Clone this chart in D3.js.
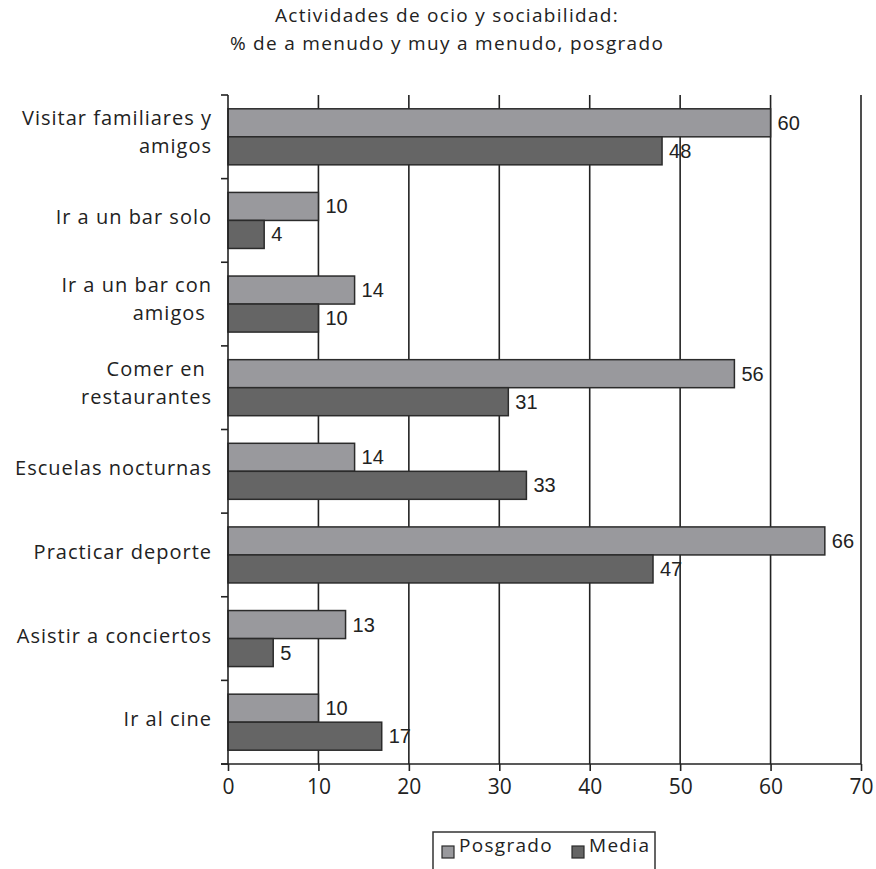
<!DOCTYPE html>
<html>
<head>
<meta charset="utf-8">
<script src="https://cdn.jsdelivr.net/npm/d3@7"></script>
<style>
  html, body { margin: 0; padding: 0; background: #ffffff; }
  svg { display: block; }
</style>
</head>
<body>
<svg id="chart" width="876" height="869"></svg>
<script>
// Activities, two-line labels split on '\n'
const categories = [
  'Visitar familiares y\namigos',
  'Ir a un bar solo',
  'Ir a un bar con\namigos ',
  'Comer en \nrestaurantes',
  'Escuelas nocturnas',
  'Practicar deporte',
  'Asistir a conciertos',
  'Ir al cine'
];
const seriesNames = ['Posgrado', 'Media'];
const posgrado = [60, 10, 14, 56, 14, 66, 13, 10];
const media = [48, 4, 10, 31, 33, 47, 5, 17];
const xTicks = [0, 10, 20, 30, 40, 50, 60, 70];
const titleLines = [
  'Actividades de ocio y sociabilidad:',
  '% de a menudo y muy a menudo, posgrado'
];

const COLORS = { Posgrado: '#99999d', Media: '#656565' };
const INK = '#222222';
const SANS = '"Open Sans", "Noto Sans", sans-serif';

const PLOT = { left: 228, right: 861, top: 95, bottom: 764 };

const root = d3.select('#chart');

const x = d3.scaleLinear()
  .domain([0, 70])
  .range([PLOT.left, PLOT.right]);

const y = d3.scaleBand()
  .domain(d3.range(categories.length))
  .range([PLOT.top, PLOT.bottom])
  .paddingInner(0.33)
  .paddingOuter(0.165);

const ySub = d3.scaleBand()
  .domain(seriesNames)
  .range([0, y.bandwidth()]);

// title
root.append('g')
  .selectAll('text')
  .data(titleLines)
  .join('text')
  .attr('x', 447)
  .attr('y', (d, i) => 22 + i * 28)
  .attr('text-anchor', 'middle')
  .attr('fill', INK)
  .attr('font-size', 19)
  .attr('letter-spacing', 1.3)
  .attr('font-family', SANS)
  .text(d => d);

// vertical gridlines (these also give the right border at 70)
root.append('g')
  .selectAll('line')
  .data(xTicks.slice(1))
  .join('line')
  .attr('x1', d => x(d))
  .attr('x2', d => x(d))
  .attr('y1', PLOT.top)
  .attr('y2', PLOT.bottom)
  .attr('stroke', INK)
  .attr('stroke-width', 1.6);

// bars
const rows = categories.map((c, i) => ({
  i,
  values: [
    { key: 'Posgrado', value: posgrado[i] },
    { key: 'Media', value: media[i] }
  ]
}));

const groups = root.append('g')
  .selectAll('g')
  .data(rows)
  .join('g')
  .attr('transform', d => `translate(0,${y(d.i)})`);

groups.selectAll('rect')
  .data(d => d.values)
  .join('rect')
  .attr('x', x(0))
  .attr('y', d => ySub(d.key))
  .attr('width', d => x(d.value) - x(0))
  .attr('height', ySub.bandwidth())
  .attr('fill', d => COLORS[d.key])
  .attr('stroke', '#2b2b2b')
  .attr('stroke-width', 1.5);

groups.selectAll('text')
  .data(d => d.values)
  .join('text')
  .attr('x', d => x(d.value) + 7)
  .attr('y', d => ySub(d.key) + ySub.bandwidth() / 2)
  .attr('dominant-baseline', 'central')
  .attr('fill', INK)
  .attr('font-size', 20)
  .attr('font-family', '"Liberation Sans", Arial, sans-serif')
  .text(d => d.value);

// x axis
const xAxis = d3.axisBottom(x)
  .tickValues(xTicks)
  .tickSize(7)
  .tickPadding(8)
  .tickSizeOuter(0);

const gx = root.append('g')
  .attr('transform', `translate(0,${PLOT.bottom})`)
  .call(xAxis);

gx.select('.domain')
  .attr('d', `M${PLOT.left - 7},0H${PLOT.right}`)
  .attr('stroke', INK)
  .attr('stroke-width', 1.6);
gx.selectAll('.tick line')
  .attr('stroke', INK)
  .attr('stroke-width', 1.6);
gx.selectAll('.tick text')
  .attr('fill', INK)
  .attr('font-size', 21)
  .attr('font-family', SANS);

// y axis line and category boundary ticks
const step = y.step();
const bounds = d3.range(categories.length + 1).map(k => PLOT.top + k * step);

root.append('line')
  .attr('x1', PLOT.left)
  .attr('x2', PLOT.left)
  .attr('y1', PLOT.top)
  .attr('y2', PLOT.bottom)
  .attr('stroke', INK)
  .attr('stroke-width', 1.6);

root.append('g')
  .selectAll('line')
  .data(bounds)
  .join('line')
  .attr('x1', PLOT.left - 7)
  .attr('x2', PLOT.left)
  .attr('y1', d => d)
  .attr('y2', d => d)
  .attr('stroke', INK)
  .attr('stroke-width', 1.6);

// category labels
const labels = root.append('g')
  .selectAll('text')
  .data(categories)
  .join('text')
  .attr('text-anchor', 'end')
  .attr('fill', INK)
  .attr('font-size', 20)
  .attr('letter-spacing', 1)
  .attr('font-family', SANS)
  .style('white-space', 'pre');

labels.each(function (d, i) {
  const lines = d.split('\n');
  const center = y(i) + y.bandwidth() / 2;
  const first = lines.length === 1 ? center + 4 : center - 12;
  d3.select(this)
    .selectAll('tspan')
    .data(lines)
    .join('tspan')
    .attr('x', 212)
    .attr('y', (l, k) => first + k * 28)
    .text(l => l);
});

// legend
const legend = root.append('g');

legend.append('rect')
  .attr('x', 433)
  .attr('y', 832)
  .attr('width', 222)
  .attr('height', 50)
  .attr('fill', 'none')
  .attr('stroke', '#333333')
  .attr('stroke-width', 1.5);

const legendX = [442, 572];

seriesNames.forEach((name, k) => {
  legend.append('rect')
    .attr('x', legendX[k])
    .attr('y', 846)
    .attr('width', 12)
    .attr('height', 12)
    .attr('fill', COLORS[name])
    .attr('stroke', '#2b2b2b')
    .attr('stroke-width', 1.2);

  legend.append('text')
    .attr('x', legendX[k] + 17)
    .attr('y', 852)
    .attr('fill', INK)
    .attr('font-size', 19)
    .attr('letter-spacing', 1.3)
    .attr('font-family', SANS)
    .text(name);
});
</script>
</body>
</html>
